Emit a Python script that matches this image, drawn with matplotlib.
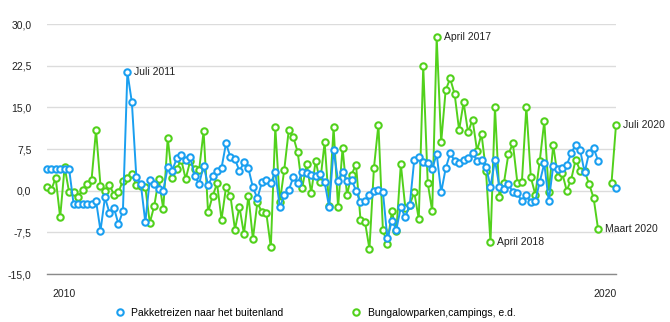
import matplotlib
matplotlib.use("Agg")
import matplotlib.pyplot as plt
import numpy as np

plt.rcParams['font.family'] = ['Liberation Sans', 'DejaVu Sans']

series_names = ["Pakketreizen naar het buitenland", "Bungalowparken,campings, e.d."]

pakketreizen = [
    3.9, 3.9, 3.9, 3.9, 3.9, 3.9, -2.4, -2.4, -2.4, -2.4,
    -2.4, -1.8, -7.2, -1.2, -4.0, -3.1, -6.0, -3.7, 21.3, 15.9,
    2.4, 1.2, -5.7, 2.0, 1.2, 0.3, 0.0, 4.2, 3.6, 5.8,
    6.5, 5.5, 6.1, 2.7, 1.2, 4.5, 1.0, 2.6, 3.5, 4.1,
    8.5, 6.0, 5.7, 3.5, 5.1, 4.0, 0.6, -1.4, 1.5, 1.9,
    1.4, 3.3, -3.0, -0.8, 0.1, 2.4, 1.4, 3.3, 3.2, 2.9,
    2.7, 3.0, 1.5, -2.9, 7.3, 1.8, 3.3, 1.8, 2.0, 0.0,
    -2.1, -1.8, -0.7, 0.0, 0.1, -0.2, -8.6, -5.4, -7.0, -3.0,
    -4.8, -2.5, 5.6, 6.1, 5.2, 4.9, 3.9, 6.6, -0.3, 4.0,
    6.7, 5.4, 4.9, 5.5, 5.8, 6.8, 5.4, 5.5, 4.3, 0.7,
    5.5, 0.6, 0.3, 1.2, -0.3, -0.5, -1.9, -0.8, -2.1, -1.8,
    1.6, 4.9, -1.9, 4.5, 3.9, 4.0, 4.6, 6.7, 8.3, 7.3,
    3.3, 6.8, 7.7, 5.4, None, None, None, 0.5,
]

bungalowparken = [
    0.6, 0.1, 2.3, -4.8, 4.3, -0.3, -0.3, -1.1, 0.2, 1.2,
    1.9, 10.9, 0.9, -0.1, 1.0, -0.7, -0.3, 1.8, 2.3, 3.0,
    1.0, 0.8, 0.6, -5.8, -2.7, 2.1, -3.3, 9.5, 2.2, 3.9,
    5.6, 2.1, 5.3, 3.9, 3.7, 10.7, -3.9, -1.0, 1.3, -5.2,
    0.6, -1.0, -7.0, -2.9, -7.8, -0.9, -8.7, -2.1, -3.9, -4.1,
    -10.2, 11.4, -2.1, 3.8, 10.9, 9.7, 6.9, 0.5, 4.8, -0.4,
    5.4, 1.5, 8.7, -2.7, 11.4, -3.0, 7.7, -0.8, 2.9, 4.7,
    -5.2, -5.6, -10.5, 4.1, 11.9, -7.1, -9.6, -3.7, -7.3, 4.8,
    -3.1, -2.5, -0.3, -5.1, 22.4, 1.4, -3.7, 27.6, 8.7, 18.1,
    20.2, 17.4, 10.9, 15.9, 10.5, 12.8, 7.2, 10.2, 3.5, -9.3,
    15.0, -1.1, 1.4, 6.6, 8.5, 1.4, 1.5, 15.1, 2.4, -0.7,
    5.4, 12.5, -0.3, 8.2, 2.5, 3.2, 0.0, 2.0, 5.6, 3.6,
    3.5, 1.2, -1.3, -6.9, None, None, 1.4, 11.8,
]

# annotated points: (series, index, text)
annotations = [
    ("pakket", 18, "Juli 2011"),
    ("bungalow", 87, "April 2017"),
    ("bungalow", 99, "April 2018"),
    ("bungalow", 123, "Maart 2020"),
    ("bungalow", 127, "Juli 2020"),
]

x_tick_labels = ["2010", "2020"]
y_ticks = [-15.0, -7.5, 0.0, 7.5, 15.0, 22.5, 30.0]

blue = "#1a9ff0"
green = "#52d11c"

def to_arr(v):
    return np.array([np.nan if a is None else a for a in v], dtype=float)

pk = to_arr(pakketreizen)
bg = to_arr(bungalowparken)
x = np.arange(len(pk))

fig = plt.figure(figsize=(6.7, 3.22), dpi=100)
ax = fig.add_axes([46.7 / 670, 1 - 274 / 322, (616 - 46.7) / 670, (274 - 24) / 322])

ax.set_xlim(0, len(pk) - 1)
ax.set_ylim(-15, 30)
ax.set_yticks(y_ticks)
ax.set_yticklabels([f"{t:.1f}".replace(".", ",") for t in y_ticks])
ax.tick_params(axis='y', length=0, pad=11, labelsize=7.5, labelcolor="#222222")
ax.grid(axis='y', color="#dcdcdc", linewidth=1.0)
ax.set_axisbelow(True)
for s in ["top", "right", "left"]:
    ax.spines[s].set_visible(False)
ax.spines["bottom"].set_color("#8a8a8a")
ax.spines["bottom"].set_linewidth(1.0)

ax.set_xticks([3.8, 124.6])
ax.set_xticklabels(x_tick_labels)
ax.tick_params(axis='x', length=0, pad=11, labelsize=7.5, labelcolor="#222222")

mk = dict(marker='o', markersize=4.6, markerfacecolor='white', markeredgewidth=1.5, linewidth=1.4, clip_on=False)
l2, = ax.plot(x, bg, color=green, markeredgecolor=green, label=series_names[1], zorder=3, **mk)
l1, = ax.plot(x, pk, color=blue, markeredgecolor=blue, label=series_names[0], zorder=4, **mk)

for ser, i, txt in annotations:
    yv = pk[i] if ser == "pakket" else bg[i]
    ax.annotate(txt, xy=(i, yv), xytext=(5, 0), textcoords='offset points',
                va='center', ha='left', fontsize=7.5, color="#222222")

fig.legend(handles=[l1, l2], labels=series_names, loc='center', ncol=2,
           bbox_to_anchor=(0.47, 0.028), frameon=False, fontsize=7.5,
           columnspacing=6.5, handlelength=1.0, handletextpad=0.6,
           markerscale=1.0)
for h in fig.legends[0].legend_handles:
    h.set_linestyle('None')

fig.savefig("out.png", dpi=100)
